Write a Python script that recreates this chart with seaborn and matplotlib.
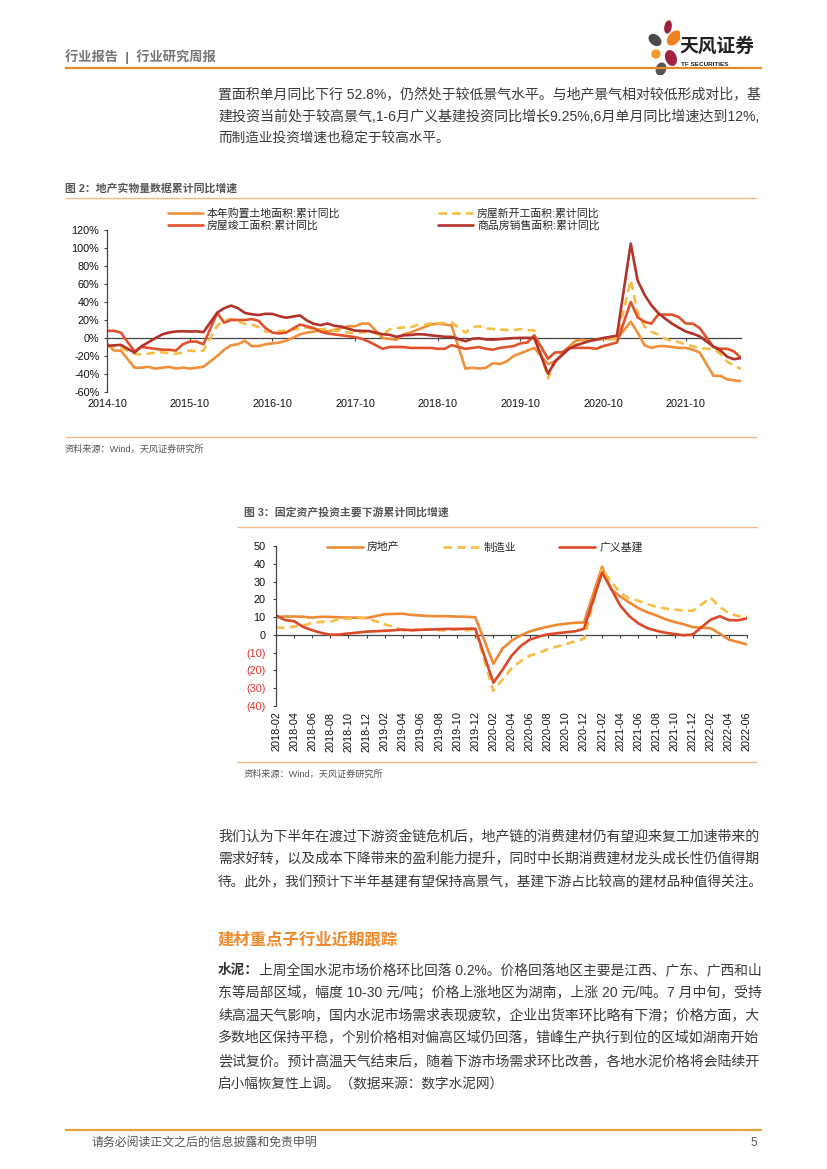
import numpy as np
import pandas as pd
import matplotlib
matplotlib.use("Agg")
import matplotlib.pyplot as plt
import seaborn as sns
from matplotlib.lines import Line2D
from matplotlib.patches import Ellipse

W, H = 827, 1169

# ---------------- 图2 data: 累计同比 (%), monthly, no January release ----------------
land = [-6, -14, -14,
        -33, -33, -32, -34, -33, -32, -34, -33, -34, -33, -32,
        -20, -13, -8, -7, -3, -9, -9, -7, -6, -5, -3,
        4, 6, 7, 9, 7, 9, 11, 13, 13, 16, 16,
        0, -1, -2, 4, 6, 9, 12, 15, 16, 15, 14,
        -34, -33, -34, -33, -28, -29, -26, -20, -17, -14, -11,
        -29, -26, -18, -10, -3, -2, -3, -2, -1, -1, -1,
        18, 6, -8, -11, -9, -9, -10, -11, -11, -13, -16,
        -42, -42, -46, -47, -48]
starts = [-9.3, -8.8, -10.7,
          -17.7, -18.4, -17.3, -16.1, -15.8, -16.8, -17.6, -16.3, -13.9, -14.7, -14.0,
          13.7, 19.2, 21.4, 18.5, 15.5, 14.9, 12.2, 6.9, 7.8, 7.6, 8.1,
          10.4, 11.6, 9.7, 9.6, 10.6, 8.3, 7.0, 6.1, 5.6, 6.2, 7.0,
          2.9, 9.7, 10.8, 11.8, 11.8, 14.4, 14.4, 16.4, 16.3, 16.8, 17.2,
          6.0, 11.9, 13.1, 10.5, 10.1, 9.5, 8.9, 8.6, 10.0, 8.6, 8.5,
          -44.9, -27.2, -18.4, -12.8, -7.6, -4.5, -3.6, -1.9, -0.9, -1.0, -1.2,
          64.3, 28.2, 12.8, 6.9, 3.8, -0.9, -3.2, -4.5, -7.7, -9.1, -11.4,
          -12.2, -17.5, -26.3, -30.6, -34.4]
completed = [8, 8, 6,
             -15, -10, -11, -12, -13, -13, -14, -7, -4, -4, -7,
             28, 17, 20, 20, 20, 21, 19, 11, 6, 5, 6,
             15, 13, 11, 7, 5, 4, 3, 2, 1, -1, -4,
             -12, -10, -10, -10, -11, -11, -11, -11, -12, -12, -8,
             -12, -11, -10, -12, -13, -11, -10, -9, -6, -5, 3,
             -23, -16, -16, -11, -11, -11, -11, -12, -9, -7, -5,
             40, 23, 18, 16, 26, 26, 26, 23, 16, 16, 11,
             -10, -12, -12, -15, -22]
sales = [-8.7, -8.2, -7.6,
         -16.3, -9.2, -4.8, -0.2, 3.9, 6.1, 7.2, 7.5, 7.2, 7.4, 6.5,
         28.2, 33.1, 36.0, 33.2, 27.9, 26.4, 25.5, 26.9, 26.8, 24.3, 22.5,
         25.1, 19.5, 15.7, 14.3, 16.1, 13.5, 12.7, 10.3, 8.2, 7.9, 7.7,
         4.1, 3.6, 1.3, 2.9, 3.3, 4.2, 4.0, 2.9, 2.2, 1.4, 1.3,
         -3.6, -0.9, -0.3, -1.6, -1.8, -1.3, -0.6, -0.1, 0.1, 0.2, -0.1,
         -39.9, -26.3, -19.3, -12.3, -8.4, -5.8, -3.3, -1.8, 0.0, 1.3, 2.6,
         104.9, 63.8, 48.1, 36.3, 27.7, 21.5, 15.9, 11.3, 7.2, 4.8, 1.9,
         -9.6, -13.8, -20.9, -23.6, -22.2]
names2 = ["本年购置土地面积:累计同比", "房屋新开工面积:累计同比",
          "房屋竣工面积:累计同比", "商品房销售面积:累计同比"]
colors2 = ["#F0903A", "#F7BE45", "#E0522B", "#B3322B"]
year_labels2 = ["2014-10", "2015-10", "2016-10", "2017-10",
                "2018-10", "2019-10", "2020-10", "2021-10"]

# ---------------- 图3 data: 累计同比 (%) ----------------
realestate = [9.9, 10.4, 10.3, 10.2, 9.7, 10.2, 10.1, 9.9, 9.7, 9.7, 9.5,
              11.6, 11.8, 11.9, 11.2, 10.9, 10.6, 10.5, 10.5, 10.3, 10.2, 9.9,
              -16.3, -7.7, -3.3, -0.3, 1.9, 3.4, 4.6, 5.6, 6.3, 6.8, 7.0,
              38.3, 25.6, 21.6, 18.3, 15.0, 12.7, 10.9, 8.8, 7.2, 6.0, 4.4,
              3.7, 0.7, -2.7, -4.0, -5.4]
manufacturing = [4.3, 3.8, 4.8, 5.2, 6.8, 7.3, 7.5, 8.7, 9.1, 9.5, 9.5,
                 5.9, 4.6, 2.5, 2.7, 3.0, 3.3, 2.6, 2.5, 3.4, 2.5, 3.1,
                 -31.5, -25.2, -18.8, -14.8, -11.7, -10.2, -8.1, -6.5, -5.3, -3.5, -2.2,
                 37.3, 29.8, 23.8, 20.4, 19.2, 17.3, 15.7, 14.8, 14.2, 13.7, 13.5,
                 20.9, 15.6, 12.2, 10.6, 10.4]
infra = [11.0, 8.3, 7.7, 4.5, 2.6, 1.1, 0.1, 0.2, 0.8, 1.3, 1.8,
         2.3, 2.6, 3.0, 2.6, 2.9, 3.0, 3.2, 3.4, 3.3, 3.5, 3.5,
         -26.9, -19.7, -11.8, -6.3, -2.7, -1.0, 0.3, 0.9, 1.5, 2.0, 3.4,
         35.0, 26.0, 16.5, 10.6, 6.5, 3.8, 2.3, 1.2, 0.5, -0.2, 0.2,
         8.6, 10.5, 8.3, 8.2, 9.3]
names3 = ["房地产", "制造业", "广义基建"]
colors3 = ["#EE8A35", "#F6BE45", "#DA4A2A"]

# ---------------- page texts ----------------
para1 = ["置面积单月同比下行 52.8%，仍然处于较低景气水平。与地产景气相对较低形成对比，基",
         "建投资当前处于较高景气,1-6月广义基建投资同比增长9.25%,6月单月同比增速达到12%,",
         "而制造业投资增速也稳定于较高水平。"]
para2 = ["我们认为下半年在渡过下游资金链危机后，地产链的消费建材仍有望迎来复工加速带来的",
         "需求好转，以及成本下降带来的盈利能力提升，同时中长期消费建材龙头成长性仍值得期",
         "待。此外，我们预计下半年基建有望保持高景气，基建下游占比较高的建材品种值得关注。"]
para3 = ["上周全国水泥市场价格环比回落 0.2%。价格回落地区主要是江西、广东、广西和山",
         "东等局部区域，幅度 10-30 元/吨；价格上涨地区为湖南，上涨 20 元/吨。7 月中旬，受持",
         "续高温天气影响，国内水泥市场需求表现疲软，企业出货率环比略有下滑；价格方面，大",
         "多数地区保持平稳，个别价格相对偏高区域仍回落，错峰生产执行到位的区域如湖南开始",
         "尝试复价。预计高温天气结束后，随着下游市场需求环比改善，各地水泥价格将会陆续开",
         "启小幅恢复性上调。（数据来源：数字水泥网）"]

sns.set_theme(style="white")
plt.rcParams['font.family'] = ['Liberation Sans', 'Noto Sans CJK SC', 'DejaVu Sans']
plt.rcParams['axes.unicode_minus'] = False

fig = plt.figure(figsize=(W / 100, H / 100), dpi=100)
renderer = fig.canvas.get_renderer()


def fx(x):
    return x / W


def fy(y):
    return 1 - y / H


def put(x, y, s, size, color="#3a3a3a", weight="normal", right=None, ha="left"):
    t = fig.text(fx(x), fy(y), s, fontsize=size, color=color, weight=weight,
                 ha=ha, va="center")
    if right is not None:
        w = t.get_window_extent(renderer).width
        t.set_fontsize(size * (right - x) / w)
    return t


def hline(x0, x1, y, color, lw):
    fig.add_artist(Line2D([fx(x0), fx(x1)], [fy(y), fy(y)], transform=fig.transFigure,
                          color=color, lw=lw, solid_capstyle="butt"))


# ---------------- header ----------------
put(65, 57, "行业报告  |  行业研究周报", 9.5, color="#767676", weight="bold")
hline(65, 762, 68, "#E8892B", 1.6)
logo = fig.add_axes([fx(644), fy(75), 36 / W, 55 / H])
logo.set_xlim(0, 36)
logo.set_ylim(0, 55)
logo.axis("off")
for (cx, cy, w, h, a, c) in [(24, 48, 6, 12, -10, "#9E1F3A"), (30, 37, 10, 16, -40, "#EE8220"),
                             (11, 35, 9, 13, 50, "#4A4A4A"), (12, 21, 8, 8, 0, "#F19A2E"),
                             (27, 17, 10, 15, 20, "#A3223D"), (17, 6, 9, 12, -20, "#555555")]:
    logo.add_patch(Ellipse((cx, cy), w, h, angle=a, color=c))
put(679, 46, "天风证券", 13.5, color="#222222", weight="bold")
put(681, 64, "TF SECURITIES", 4.6, color="#222222", weight="bold")

# ---------------- paragraph 1 ----------------
for i, s in enumerate(para1):
    put(218, 95 + 22 * i, s, 9.8, right=762 if i < 2 else None)

# ---------------- 图2 ----------------
put(65, 188, "图 2：地产实物量数据累计同比增速", 7.8, color="#555555", weight="bold")
hline(65, 757, 198, "#F3B98A", 1.0)

dates2 = pd.date_range("2014-10-01", "2022-06-01", freq="MS")
dates2 = dates2[dates2.month != 1]
x2 = (dates2.year - 2014) * 12 + dates2.month - 10
df2 = pd.DataFrame({"x": np.tile(x2, 4),
                    "v": np.concatenate([land, starts, completed, sales]),
                    "s": np.repeat(names2, len(x2))})
ax2 = fig.add_axes([fx(107), fy(392), (741 - 107) / W, (392 - 230) / H])
dash2 = {names2[0]: "", names2[1]: (3.2, 2.0), names2[2]: "", names2[3]: ""}
sns.lineplot(data=df2, x="x", y="v", hue="s", style="s", hue_order=names2, style_order=names2,
             palette=dict(zip(names2, colors2)), dashes=dash2, linewidth=1.9,
             legend=False, sort=False, ax=ax2)
ax2.set_xlim(0, 92)
ax2.set_ylim(-60, 120)
ax2.set_yticks(np.arange(-60, 121, 20))
ax2.set_yticklabels([f"{v}%" for v in range(-60, 121, 20)], fontsize=7.8)
ax2.set_xticks(np.arange(0, 85, 12))
ax2.set_xticklabels(year_labels2, fontsize=7.8)
ax2.set_xlabel("")
ax2.set_ylabel("")
for sp in ["top", "right", "bottom"]:
    ax2.spines[sp].set_visible(False)
ax2.spines["left"].set_color("#444444")
ax2.spines["left"].set_linewidth(0.9)
ax2.tick_params(axis="x", length=0, pad=5, colors="#111111")
ax2.tick_params(axis="y", left=True, length=2.5, width=0.8, direction="out", pad=3,
                colors="#111111")
ax2.yaxis.set_tick_params(color="#444444")
zero2 = ax2.secondary_xaxis(60 / 180)
zero2.set_xticks(np.arange(0, 85, 12))
zero2.tick_params(axis="x", length=2.5, width=0.8, color="#444444", labelbottom=False,
                  direction="out")
zero2.spines["bottom"].set_color("#444444")
zero2.spines["bottom"].set_linewidth(0.9)

order2 = [0, 2, 1, 3]
handles2 = [Line2D([], [], color=colors2[i], lw=1.9,
                   dashes=(3.2, 2.0) if i == 1 else (None, None)) for i in order2]
ax2.legend(handles2, [names2[i] for i in order2], ncol=2, frameon=False, fontsize=7.8,
           loc="center left", bbox_to_anchor=(fx(168), fy(219.5)),
           bbox_transform=fig.transFigure, handlelength=3.2, handletextpad=0.4,
           columnspacing=9.0, labelspacing=0.15, borderpad=0, borderaxespad=0)

hline(65, 757, 437, "#F3B98A", 1.0)
put(65, 449, "资料来源：Wind，天风证券研究所", 6.6, color="#555555")

# ---------------- 图3 ----------------
put(244, 512, "图 3：固定资产投资主要下游累计同比增速", 7.8, color="#555555", weight="bold")
hline(237, 757, 527, "#F3B98A", 1.0)

dates3 = pd.date_range("2018-02-01", "2022-06-01", freq="MS")
dates3 = dates3[dates3.month != 1]
x3 = (dates3.year - 2018) * 12 + dates3.month - 2
df3 = pd.DataFrame({"x": np.tile(x3, 3),
                    "v": np.concatenate([realestate, manufacturing, infra]),
                    "s": np.repeat(names3, len(x3))})
ax3 = fig.add_axes([fx(276), fy(706), (747 - 276) / W, (706 - 546) / H])
dash3 = {names3[0]: "", names3[1]: (3.2, 2.0), names3[2]: ""}
sns.lineplot(data=df3, x="x", y="v", hue="s", style="s", hue_order=names3, style_order=names3,
             palette=dict(zip(names3, colors3)), dashes=dash3, linewidth=1.9,
             legend=False, sort=False, ax=ax3)
ax3.set_xlim(0, 52)
ax3.set_ylim(-40, 50)
yt3 = list(range(-40, 51, 10))
ax3.set_yticks(yt3)
ax3.set_yticklabels([f"({-v})" if v < 0 else f"{v}" for v in yt3], fontsize=7.8)
for lbl, v in zip(ax3.get_yticklabels(), yt3):
    lbl.set_color("#E0332B" if v < 0 else "#111111")
tick3 = pd.date_range("2018-02-01", "2022-06-01", freq="2MS")
ax3.set_xticks((tick3.year - 2018) * 12 + tick3.month - 2)
ax3.set_xticklabels([d.strftime("%Y-%m") for d in tick3], rotation=90, fontsize=7.8)
ax3.set_xlabel("")
ax3.set_ylabel("")
for sp in ["top", "right", "bottom"]:
    ax3.spines[sp].set_visible(False)
ax3.spines["left"].set_color("#444444")
ax3.spines["left"].set_linewidth(0.9)
ax3.tick_params(axis="x", length=0, pad=4, colors="#111111")
ax3.tick_params(axis="y", left=True, length=2.5, width=0.8, direction="out", pad=5)
ax3.yaxis.set_tick_params(color="#444444")
zero3 = ax3.secondary_xaxis(40 / 90)
zero3.set_xticks((tick3.year - 2018) * 12 + tick3.month - 2)
zero3.tick_params(axis="x", length=2.5, width=0.8, color="#444444", labelbottom=False,
                  direction="out")
zero3.spines["bottom"].set_color("#444444")
zero3.spines["bottom"].set_linewidth(0.9)

handles3 = [Line2D([], [], color=colors3[i], lw=1.9,
                   dashes=(3.2, 2.0) if i == 1 else (None, None)) for i in range(3)]
ax3.legend(handles3, names3, ncol=3, frameon=False, fontsize=7.8,
           loc="center left", bbox_to_anchor=(fx(327), fy(547)),
           bbox_transform=fig.transFigure, handlelength=3.3, handletextpad=0.4,
           columnspacing=4.0, borderpad=0, borderaxespad=0)

hline(237, 757, 762, "#F3B98A", 1.0)
put(244, 774, "资料来源：Wind，天风证券研究所", 6.6, color="#555555")

# ---------------- paragraph 2 ----------------
for i, s in enumerate(para2):
    put(218, 837 + 22.5 * i, s, 9.8, right=762)

put(218, 939, "建材重点子行业近期跟踪", 11.8, color="#F08A2B", weight="bold")

# ---------------- paragraph 3 ----------------
b = put(218, 970, "水泥：", 9.8, color="#333333", weight="bold")
bx = 218 + b.get_window_extent(renderer).width
for i, s in enumerate(para3):
    x0 = bx if i == 0 else 218
    put(x0, 970 + 22.8 * i, s, 9.8, right=762 if i < 5 else None)

# ---------------- footer ----------------
hline(65, 762, 1130, "#E9A23B", 1.6)
put(92, 1143, "请务必阅读正文之后的信息披露和免责申明", 8.6, color="#555555")
put(757, 1143, "5", 8.6, color="#555555", ha="right")

fig.savefig("out.png", dpi=100)
